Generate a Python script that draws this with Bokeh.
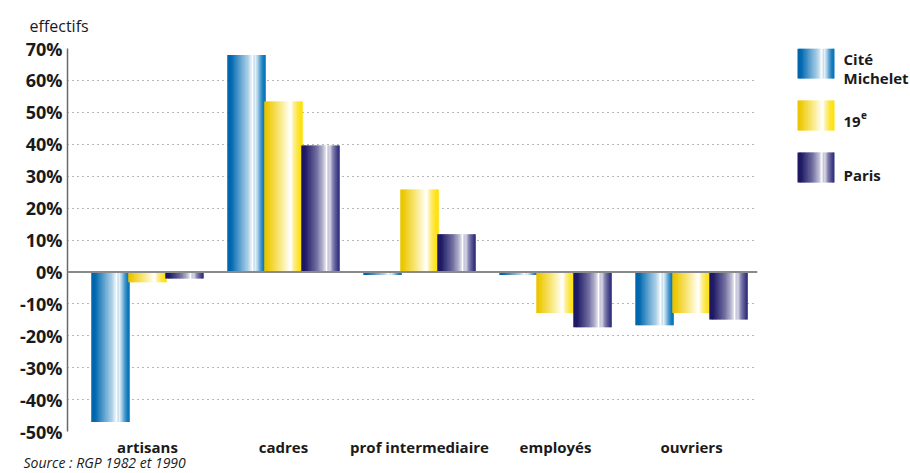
from bokeh.plotting import figure
from bokeh.models import (ColumnDataSource, Range1d, FixedTicker, PrintfTickFormatter,
                          Span, Title)
from bokeh.layouts import row
from bokeh.embed import file_html
from bokeh.resources import INLINE
from bokeh.core.properties import value

# ---- data ----
categories = ["artisans", "cadres", "prof intermediaire", "employés", "ouvriers"]
cite_michelet = [-47.0, 68.0, -1.0, -1.0, -16.7]
dix_neuvieme = [-3.2, 53.4, 25.8, -12.9, -12.9]
paris = [-2.1, 39.6, 11.8, -17.3, -14.9]
series_names = ["Cité Michelet", "19e", "Paris"]
y_ticks = [-50, -40, -30, -20, -10, 0, 10, 20, 30, 40, 50, 60, 70]

# ---- styles ----
FONT = "Open Sans"
styles = [
    dict(left="#0066AE", right="#0072BA",
         prof=[(0, 0), (0.1, 0), (0.35, 0.4), (0.55, 0.7), (0.63, 0.92), (0.66, 1.0),
               (0.69, 0.75), (0.74, 0.92), (0.8, 0.6), (0.92, 0.1), (1, 0)]),
    dict(left="#EAC400", right="#FFE100",
         prof=[(0, 0), (0.06, 0), (0.4, 0.5), (0.6, 0.85), (0.66, 1.0), (0.7, 0.95),
               (0.76, 0.6), (0.9, 0.15), (1, 0)]),
    dict(left="#1E1863", right="#2A2878",
         prof=[(0, 0), (0.1, 0), (0.4, 0.35), (0.58, 0.7), (0.66, 1.0), (0.7, 0.7),
               (0.75, 0.85), (0.8, 0.5), (0.92, 0.15), (1, 0)]),
]
NSTRIP = 28


def hex2rgb(h):
    h = h.lstrip("#")
    return [int(h[i:i + 2], 16) for i in (0, 2, 4)]


def interp_prof(prof, t):
    for (t0, w0), (t1, w1) in zip(prof[:-1], prof[1:]):
        if t0 <= t <= t1:
            if t1 == t0:
                return w1
            return w0 + (w1 - w0) * (t - t0) / (t1 - t0)
    return prof[-1][1]


def strip_colors(st):
    cl, cr = hex2rgb(st["left"]), hex2rgb(st["right"])
    cols = []
    for k in range(NSTRIP):
        t = (k + 0.5) / NSTRIP
        base = [cl[i] + (cr[i] - cl[i]) * t for i in range(3)]
        w = interp_prof(st["prof"], t)
        c = [round(b + (255 - b) * w) for b in base]
        cols.append("#%02x%02x%02x" % tuple(c))
    return cols


# ---- main figure ----
p = figure(width=770, height=473, output_backend="svg", toolbar_location=None,
           x_range=Range1d(-0.588, 4.485), y_range=Range1d(-50, 70),
           min_border_left=67, min_border_right=13, min_border_top=48,
           min_border_bottom=42)
p.outline_line_color = None
p.background_fill_color = "white"
p.border_fill_color = "white"

p.title = Title(text="effectifs", align="left", offset=-38, standoff=23,
                text_font=FONT, text_font_size="16px", text_font_style="normal",
                text_color="#1a1a1a")

bar_w = 0.283
offsets = [-0.272, 0.0, 0.272]
all_series = [cite_michelet, dix_neuvieme, paris]

L, R, T, B, C = [], [], [], [], []
for s_idx, vals in enumerate(all_series):
    cols = strip_colors(styles[s_idx])
    for c_idx, v in enumerate(vals):
        x0 = c_idx + offsets[s_idx] - bar_w / 2
        sw = bar_w / NSTRIP
        for k in range(NSTRIP):
            left = x0 + k * sw
            right = left + sw * (1.6 if k < NSTRIP - 1 else 1.0)
            L.append(left)
            R.append(right)
            T.append(max(v, 0))
            B.append(min(v, 0))
            C.append(cols[k])

src = ColumnDataSource(dict(left=L, right=R, top=T, bottom=B, color=C))
p.quad(left="left", right="right", top="top", bottom="bottom", source=src,
       fill_color="color", line_color=None)

p.add_layout(Span(location=0, dimension="width", line_color="#8a8a8a", line_width=2))

# axes
p.yaxis.ticker = FixedTicker(ticks=y_ticks)
p.yaxis.formatter = PrintfTickFormatter(format="%d%%")
p.yaxis.axis_line_color = "#6a6a6a"
p.yaxis.axis_line_width = 1.5
p.yaxis.major_tick_line_color = None
p.yaxis.minor_tick_line_color = None
p.yaxis.major_tick_out = 0
p.yaxis.major_tick_in = 0
p.yaxis.major_label_standoff = 5
p.yaxis.major_label_text_font = FONT
p.yaxis.major_label_text_font_size = "18px"
p.yaxis.major_label_text_font_style = "bold"
p.yaxis.major_label_text_color = "#1a1a1a"

p.xaxis.ticker = FixedTicker(ticks=list(range(len(categories))))
p.xaxis.major_label_overrides = {i: c for i, c in enumerate(categories)}
p.xaxis.axis_line_color = None
p.xaxis.major_tick_line_color = None
p.xaxis.minor_tick_line_color = None
p.xaxis.major_tick_out = 0
p.xaxis.major_tick_in = 0
p.xaxis.minor_tick_out = 0
p.xaxis.major_label_standoff = 5
p.xaxis.major_label_text_font = FONT
p.xaxis.major_label_text_font_size = "15px"
p.xaxis.major_label_text_font_style = "bold"
p.xaxis.major_label_text_color = "#1a1a1a"

p.add_layout(Title(text="Source : RGP 1982 et 1990", align="left", offset=-44,
                   standoff=-17, text_font=FONT, text_font_size="14px",
                   text_font_style="italic", text_color="#1a1a1a"), "below")

p.xgrid.grid_line_color = None
p.ygrid.ticker = FixedTicker(ticks=y_ticks)
p.ygrid.grid_line_color = "#6f6f6f"
p.ygrid.grid_line_dash = "1 4"
p.ygrid.grid_line_width = 1

# ---- legend figure (frame aligned with main frame: data y == page y) ----
lg = figure(width=140, height=473, output_backend="svg", toolbar_location=None,
            x_range=Range1d(0, 140), y_range=Range1d(431, 48),
            min_border_left=0, min_border_right=0,
            min_border_top=48, min_border_bottom=42)
lg.axis.visible = False
lg.grid.grid_line_color = None
lg.outline_line_color = None
lg.background_fill_color = "white"
lg.border_fill_color = "white"

sw_left, sw_w = 27, 37
sw_tops = [48, 100, 152]
sw_h = 30
LL, RR, TT, BB, CC = [], [], [], [], []
for s_idx in range(3):
    cols = strip_colors(styles[s_idx])
    w = sw_w / NSTRIP
    for k in range(NSTRIP):
        l0 = sw_left + k * w
        LL.append(l0)
        RR.append(l0 + w * (1.6 if k < NSTRIP - 1 else 1.0))
        TT.append(sw_tops[s_idx])
        BB.append(sw_tops[s_idx] + sw_h)
        CC.append(cols[k])
lsrc = ColumnDataSource(dict(left=LL, right=RR, top=TT, bottom=BB, color=CC))
lg.quad(left="left", right="right", top="top", bottom="bottom", source=lsrc,
        fill_color="color", line_color=None)

lg.text(x=[73, 73, 73, 73], y=[58, 77, 121, 174],
        text=["Cité", "Michelet", "19", "Paris"],
        text_font=value(FONT), text_font_size="15px", text_font_style="bold",
        text_color="#1a1a1a", text_baseline="alphabetic")
lg.text(x=[90.5], y=[114], text=["e"], text_font=value(FONT), text_font_size="10px",
        text_font_style="bold", text_color="#1a1a1a", text_baseline="alphabetic")

layout = row(p, lg, spacing=0)
open("out.html", "w").write(file_html(layout, INLINE))
